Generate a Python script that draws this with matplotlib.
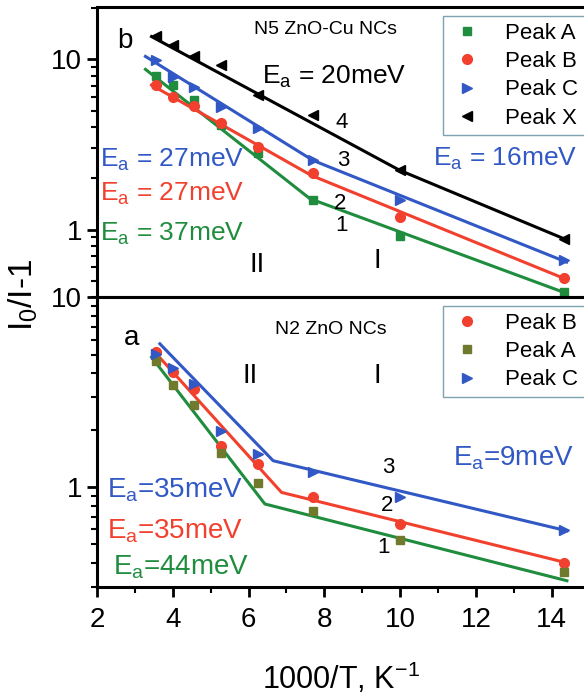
import numpy as np
import matplotlib
matplotlib.use("Agg")
import matplotlib.pyplot as plt
from matplotlib.ticker import LogLocator, FixedLocator, FixedFormatter, NullFormatter

plt.rcParams['font.family'] = ['Liberation Sans', 'DejaVu Sans']
plt.rcParams['mathtext.fontset'] = 'custom'
plt.rcParams['mathtext.rm'] = 'Liberation Sans'
plt.rcParams['mathtext.it'] = 'Liberation Sans'

BLUE = '#3158c4'
RED = '#f2402e'
GREEN = '#1f8c3e'
OLIVE = '#6f7a2c'

# 1000/T of the measured points (both samples)
x_pts = [3.55, 4.0, 4.57, 5.26, 6.25, 7.7, 10.0, 14.32]

# ---- N5 ZnO-Cu NCs (panel b) ----
b_peak_a = [7.98, 7.07, 5.77, 4.1, 2.81, 1.49, 0.92, 0.43]
b_peak_b = [7.07, 6.0, 5.31, 4.22, 3.05, 2.14, 1.18, 0.52]
b_peak_c = [9.9, 7.87, 6.88, 5.24, 3.94, 2.56, 1.49, 0.66]
b_peak_x = [13.7, 12.1, 10.4, 9.25, 6.17, 4.7, 2.23, 0.885]

# Arrhenius fits, vertices of the broken lines
b_fit_a_x = [3.28, 7.62, 14.3]
b_fit_a_y = [8.73, 1.52, 0.43]
b_fit_b_x = [3.44, 7.66, 14.3]
b_fit_b_y = [7.06, 2.08, 0.52]
b_fit_c_x = [3.28, 7.70, 14.39]
b_fit_c_y = [10.4, 2.55, 0.645]
b_fit_x_x = [3.44, 9.99, 14.4]
b_fit_x_y = [13.6, 2.23, 0.87]

# ---- N2 ZnO NCs (panel a) ----
a_peak_a = [4.65, 3.44, 2.70, 1.51, 1.05, 0.754, 0.528, 0.356]
a_peak_b = [5.15, 4.04, 3.30, 1.66, 1.33, 0.886, 0.641, 0.40]
a_peak_c = [5.05, 4.26, 3.51, 1.99, 1.50, 1.20, 0.886, 0.596]

a_fit_a_x = [3.44, 6.43, 14.4]
a_fit_a_y = [4.85, 0.817, 0.322]
a_fit_b_x = [3.49, 6.87, 14.4]
a_fit_b_y = [5.25, 0.94, 0.40]
a_fit_c_x = [3.66, 6.65, 14.4]
a_fit_c_y = [5.70, 1.38, 0.59]

fig = plt.figure(figsize=(5.84, 6.95), dpi=100)
ax_b = fig.add_axes([0.166, 0.572, 0.834, 0.4175])
ax_a = fig.add_axes([0.166, 0.156, 0.834, 0.416])

lw = 2.2
ms = 6

# panel b
ax_b.plot(b_fit_a_x, b_fit_a_y, color=GREEN, lw=lw)
ax_b.plot(b_fit_b_x, b_fit_b_y, color=RED, lw=lw)
ax_b.plot(b_fit_c_x, b_fit_c_y, color=BLUE, lw=lw)
ax_b.plot(b_fit_x_x, b_fit_x_y, color='black', lw=lw)
ax_b.plot(x_pts, b_peak_a, 's', color=GREEN, ms=ms, label='Peak A')
ax_b.plot(x_pts, b_peak_b, 'o', color=RED, ms=ms + 1, label='Peak B')
ax_b.plot(x_pts, b_peak_c, '>', color=BLUE, ms=ms + 1, label='Peak C')
ax_b.plot(x_pts, b_peak_x, '<', color='black', ms=ms + 1, label='Peak X')

# panel a
ax_a.plot(a_fit_a_x, a_fit_a_y, color=GREEN, lw=lw)
ax_a.plot(a_fit_b_x, a_fit_b_y, color=RED, lw=lw)
ax_a.plot(a_fit_c_x, a_fit_c_y, color=BLUE, lw=lw)
ax_a.plot(x_pts, a_peak_b, 'o', color=RED, ms=ms + 1, label='Peak B')
ax_a.plot(x_pts, a_peak_a, 's', color=OLIVE, ms=ms, label='Peak A')
ax_a.plot(x_pts, a_peak_c, '>', color=BLUE, ms=ms + 1, label='Peak C')

for ax in (ax_b, ax_a):
    ax.set_yscale('log')
    ax.set_xlim(2, 14.85)
    ax.spines['right'].set_visible(False)
    for s in ('left', 'top', 'bottom'):
        ax.spines[s].set_linewidth(2.2)
    ax.yaxis.set_minor_locator(LogLocator(base=10, subs=np.arange(2, 10)))
    ax.yaxis.set_minor_formatter(NullFormatter())
    ax.tick_params(axis='both', which='major', direction='out', length=7, width=2,
                   labelsize=20, right=False, top=False)
    ax.tick_params(axis='both', which='minor', direction='out', length=4, width=1.5,
                   right=False, top=False)
    ax.legend(loc='upper left', bbox_to_anchor=(0.71, 0.97), borderaxespad=0,
              fontsize=16, frameon=True, fancybox=False, edgecolor='#5c8c9c',
              handletextpad=0.9, labelspacing=0.33, borderpad=0.3, handlelength=1.6)

ax_b.set_ylim(0.4, 20.2)
ax_b.yaxis.set_major_locator(FixedLocator([1, 10]))
ax_b.yaxis.set_major_formatter(FixedFormatter(['1', '10']))
ax_b.tick_params(axis='x', which='both', bottom=False, labelbottom=False)

ax_a.set_ylim(0.3, 10)
ax_a.yaxis.set_major_locator(FixedLocator([1, 10]))
ax_a.yaxis.set_major_formatter(FixedFormatter(['1', '10']))
ax_a.xaxis.set_major_locator(FixedLocator([2, 4, 6, 8, 10, 12, 14]))
ax_a.xaxis.set_minor_locator(FixedLocator([3, 5, 7, 9, 11, 13]))
ax_a.tick_params(axis='x', which='major', pad=8)
ax_a.set_xlabel('1000/T, K$^{\\mathrm{-1}}$', fontsize=22, labelpad=20)

fig.text(0.04, 0.575, 'I$_0$/I-1', rotation=90, fontsize=24, ha='center', va='center')

# annotations, panel b
ax_b.text(2.74, 12.8, 'b', fontsize=20, ha='center', va='center')
ax_b.text(8.04, 14.9, 'N5 ZnO-Cu NCs', fontsize=14, ha='center', va='center')
ax_b.text(6.35, 7.87, r'E$_\mathrm{a}$ = 20meV', fontsize=19, ha='left', va='center')
ax_b.text(2.08, 2.56, r'E$_\mathrm{a}$ = 27meV', fontsize=19, color=BLUE, ha='left', va='center')
ax_b.text(2.08, 1.63, r'E$_\mathrm{a}$ = 27meV', fontsize=19, color=RED, ha='left', va='center')
ax_b.text(2.08, 0.95, r'E$_\mathrm{a}$ = 37meV', fontsize=19, color=GREEN, ha='left', va='center')
ax_b.text(10.87, 2.62, r'E$_\mathrm{a}$ = 16meV', fontsize=19, color=BLUE, ha='left', va='center')
for lbl, xx, yy in [('4', 8.46, 4.27), ('3', 8.49, 2.56), ('2', 8.41, 1.43), ('1', 8.44, 1.06)]:
    ax_b.text(xx, yy, lbl, fontsize=16, ha='center', va='center')
ax_b.text(6.22, 0.617, 'II', fontsize=20, ha='center', va='center')
ax_b.text(9.39, 0.652, 'I', fontsize=20, ha='center', va='center')

# annotations, panel a
ax_a.text(2.92, 6.08, 'a', fontsize=20, ha='center', va='center')
ax_a.text(8.17, 6.78, 'N2 ZnO NCs', fontsize=14, ha='center', va='center')
ax_a.text(6.04, 3.84, 'II', fontsize=20, ha='center', va='center')
ax_a.text(9.39, 3.84, 'I', fontsize=20, ha='center', va='center')
ax_a.text(11.39, 1.43, r'E$_\mathrm{a}$=9meV', fontsize=20, color=BLUE, ha='left', va='center')
ax_a.text(2.26, 0.96, r'E$_\mathrm{a}$=35meV', fontsize=20, color=BLUE, ha='left', va='center')
ax_a.text(2.26, 0.59, r'E$_\mathrm{a}$=35meV', fontsize=20, color=RED, ha='left', va='center')
ax_a.text(2.42, 0.377, r'E$_\mathrm{a}$=44meV', fontsize=20, color=GREEN, ha='left', va='center')
for lbl, xx, yy in [('3', 9.68, 1.27), ('2', 9.65, 0.80), ('1', 9.55, 0.48)]:
    ax_a.text(xx, yy, lbl, fontsize=16, ha='center', va='center')

fig.savefig('out.png', dpi=100)
